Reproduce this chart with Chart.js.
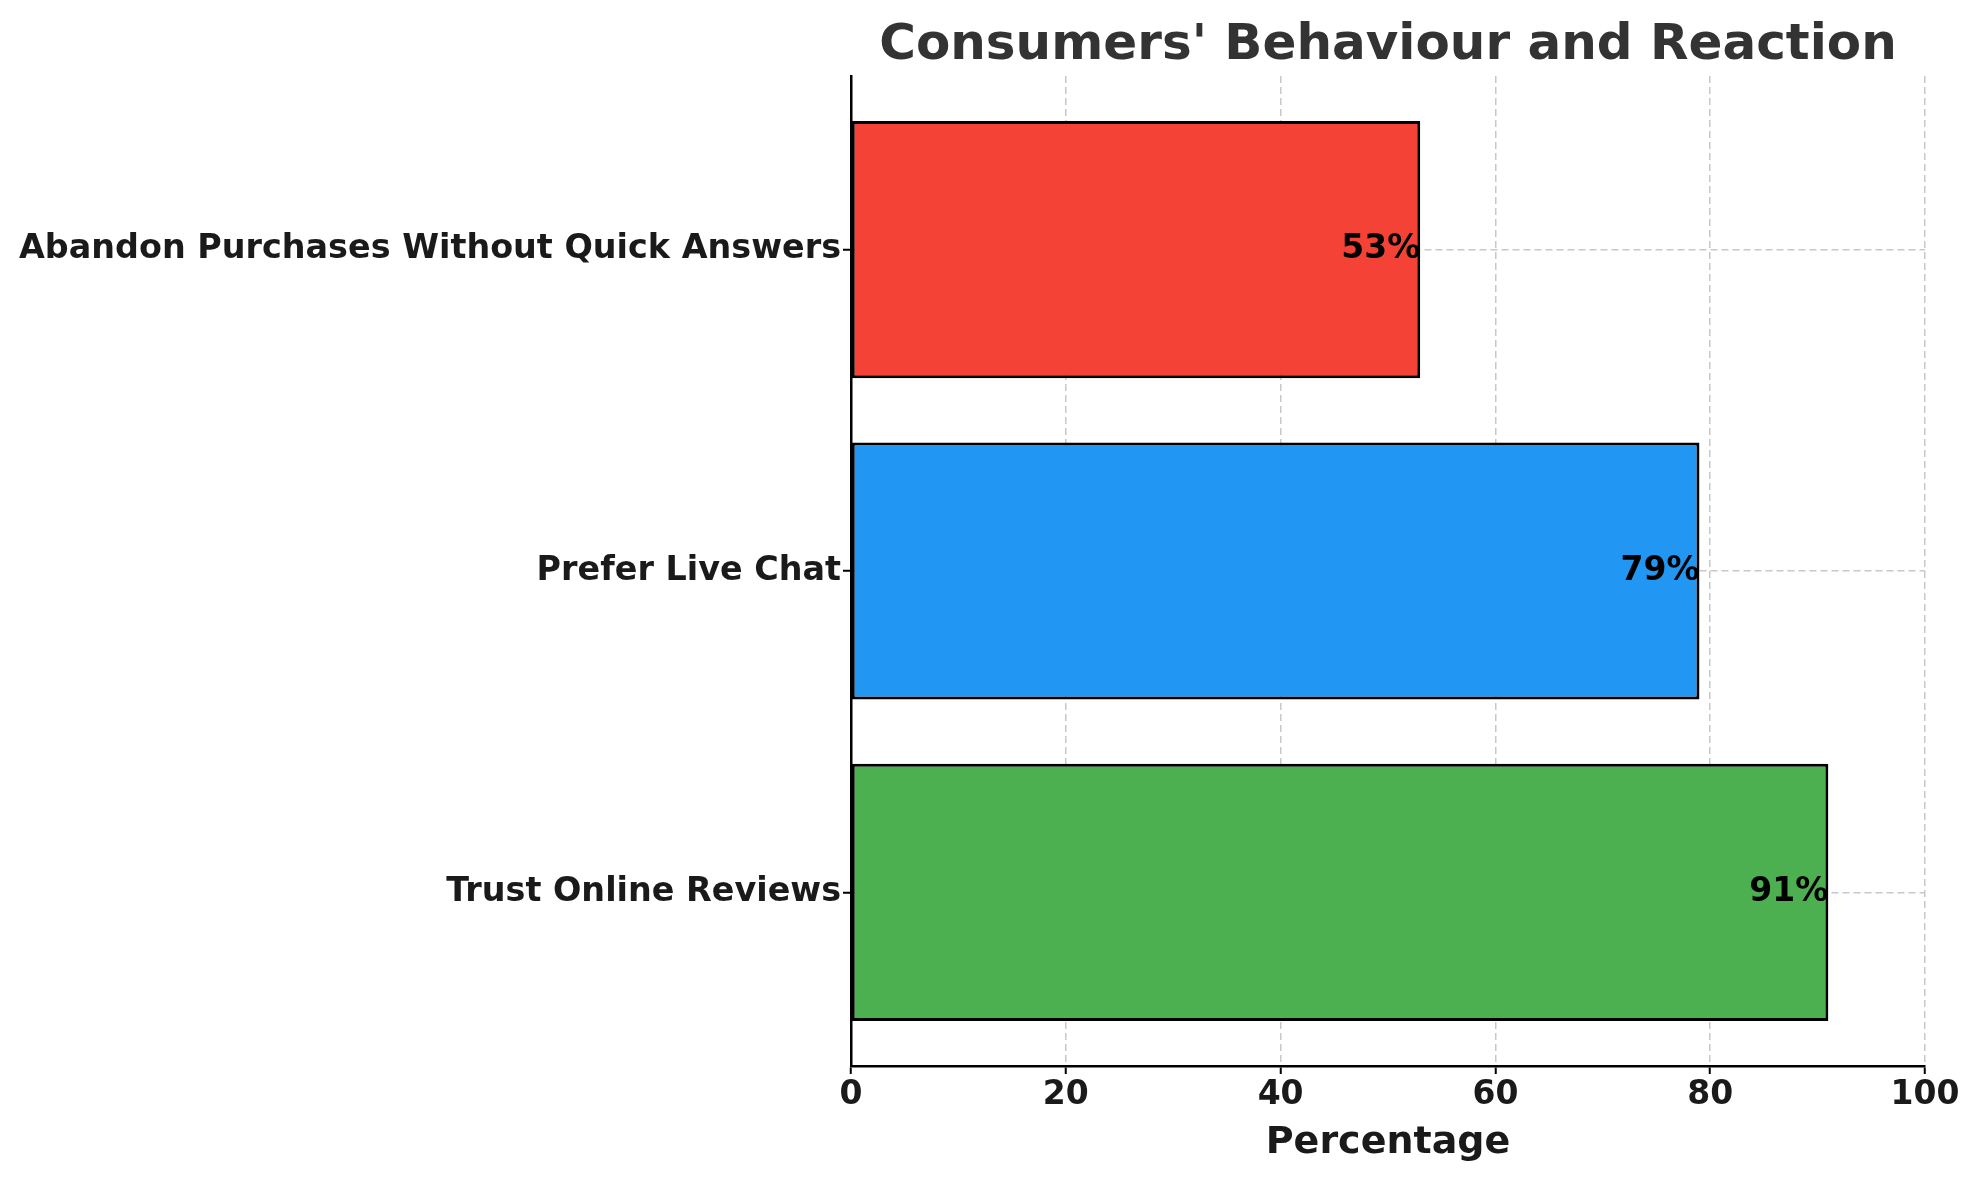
<!DOCTYPE html>
<html>
<head>
<meta charset="utf-8">
<script src="https://cdn.jsdelivr.net/npm/chart.js@4/dist/chart.umd.min.js"></script>
<style>
  html, body { margin: 0; padding: 0; background: #fff; }
  #wrap { width: 1979px; height: 1180px; }
</style>
</head>
<body>
<div id="wrap"><canvas id="behaviourChart" width="1979" height="1180"></canvas></div>
<script>
// bottom to top, like matplotlib's barh
const categories = ['Trust Online Reviews', 'Prefer Live Chat', 'Abandon Purchases Without Quick Answers'];
const percentages = [91, 79, 53];
const barColors = ['#4CAF50', '#2196F3', '#F44336'];
const xTicks = [0, 20, 40, 60, 80, 100];

const FONT = "'DejaVu Sans', 'Liberation Sans', sans-serif";

const valueLabels = {
  id: 'valueLabels',
  afterDraw(chart) {
    const ctx = chart.ctx;
    const meta = chart.getDatasetMeta(0);
    ctx.save();
    ctx.font = 'bold 33px ' + FONT;
    ctx.fillStyle = '#000';
    ctx.textAlign = 'right';
    ctx.textBaseline = 'middle';
    meta.data.forEach((bar, i) => {
      ctx.fillText(percentages[i] + '%', bar.x, bar.y);
    });
    ctx.restore();
  }
};

const ctx = document.getElementById('behaviourChart').getContext('2d');
new Chart(ctx, {
  type: 'bar',
  data: {
    datasets: [{
      data: percentages.map((v, i) => ({ x: v, y: i })),
      backgroundColor: barColors,
      borderColor: '#000',
      borderWidth: 3,
      borderSkipped: false,
      barPercentage: 0.8,
      categoryPercentage: 1.0
    }]
  },
  options: {
    indexAxis: 'y',
    responsive: false,
    animation: false,
    layout: { padding: { left: 0, right: 54, top: 0, bottom: 0 } },
    plugins: {
      legend: { display: false },
      tooltip: { enabled: false },
      title: {
        display: true,
        fullSize: false,
        text: "Consumers' Behaviour and Reaction",
        color: '#333',
        font: { family: FONT, size: 50, weight: 'bold' },
        padding: { top: 16, bottom: 0 }
      }
    },
    scales: {
      x: {
        type: 'linear',
        min: 0,
        max: 100,
        z: 1,
        afterBuildTicks(scale) { scale.ticks = xTicks.map(v => ({ value: v })); },
        afterFit(scale) { scale.height = 114; },
        ticks: {
          color: '#1a1a1a',
          font: { family: FONT, size: 33, weight: 'bold' },
          padding: 2,
          maxRotation: 0
        },
        grid: {
          color: '#c8c8c8',
          lineWidth: 1.5,
          tickColor: '#000',
          tickLength: 8,
          tickWidth: 2
        },
        border: { display: true, color: '#000', width: 2.5, dash: [7, 4] },
        title: {
          display: true,
          text: 'Percentage',
          color: '#1a1a1a',
          font: { family: FONT, size: 38, weight: 'bold' },
          padding: { top: 0, bottom: 14 }
        }
      },
      y: {
        type: 'linear',
        min: -0.54,
        max: 2.54,
        offset: false,
        z: 1,
        afterBuildTicks(scale) { scale.ticks = categories.map((c, i) => ({ value: i })); },
        afterFit(scale) { scale.width = 851; },
        ticks: {
          color: '#1a1a1a',
          font: { family: FONT, size: 33.4, weight: 'bold' },
          padding: 2,
          callback: (value) => categories[value]
        },
        grid: {
          offset: false,
          color: '#c8c8c8',
          lineWidth: 1.5,
          tickColor: '#000',
          tickLength: 8,
          tickWidth: 2
        },
        border: { display: true, color: '#000', width: 2.5, dash: [7, 4] }
      }
    }
  },
  plugins: [valueLabels]
});
</script>
</body>
</html>
